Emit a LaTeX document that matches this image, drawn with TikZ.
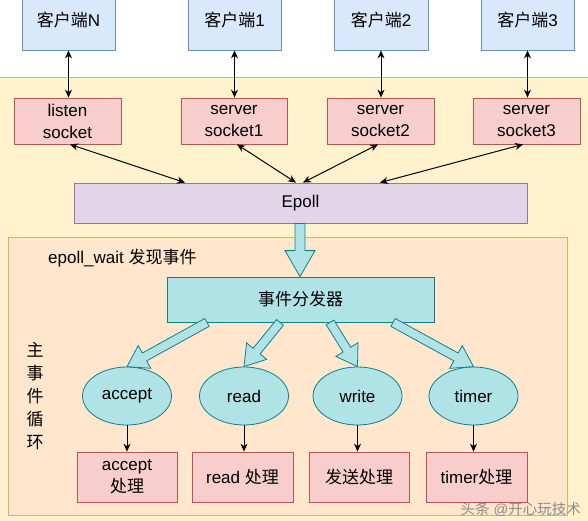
\documentclass[tikz,border=0pt]{standalone}
\usepackage{fontspec}
\setmainfont{Liberation Sans}
\newfontfamily\cjk{Noto Sans CJK SC}
\usetikzlibrary{arrows.meta,calc,shapes.geometric}
\definecolor{cbluef}{HTML}{DAE8FC}\definecolor{cblued}{HTML}{6C8EBF}
\definecolor{credf}{HTML}{F8CECC}\definecolor{credd}{HTML}{B85450}
\definecolor{cpurf}{HTML}{E1D5E7}\definecolor{cpurd}{HTML}{9673A6}
\definecolor{ccyf}{HTML}{B0E3E6}\definecolor{ccyd}{HTML}{0E8088}
\definecolor{cyelf}{HTML}{FFF2CC}\definecolor{cyeld}{HTML}{D6B656}
\definecolor{corgf}{HTML}{FFE6CC}
\tikzset{
  every node/.style={font=\fontsize{17}{22}\selectfont, inner sep=0pt},
  client/.style={draw=cblued, fill=cbluef, line width=0.8pt, minimum height=60pt},
  sock/.style={draw=credd, fill=credf, line width=0.8pt, minimum height=46pt, align=center},
  proc/.style={draw=credd, fill=credf, line width=0.8pt, minimum height=50pt, align=center},
  epollbox/.style={draw=cpurd, fill=cpurf, line width=0.8pt},
  dispbox/.style={draw=ccyd, fill=ccyf, line width=0.8pt},
  evt/.style={ellipse, draw=ccyd, fill=ccyf, line width=0.8pt, minimum width=89pt, minimum height=58pt},
  link/.style={line width=1pt, -{Stealth[length=8pt,width=7pt]}},
  dlink/.style={line width=1pt, {Stealth[length=8pt,width=7pt]}-{Stealth[length=8pt,width=7pt]}},
  bigarrow/.style={draw=ccyd, fill=ccyf, line width=0.8pt, line join=miter},
}
\newcommand\blockarr[5]{%
  \coordinate (baA) at (#1);
  \coordinate (baB) at (#2);
  \coordinate (baH) at ($(baB)!#5!(baA)$);
  \draw[bigarrow] ($(baA)!#3!90:(baB)$) -- ($(baH)!#3!90:(baB)$) -- ($(baH)!#4!90:(baB)$) -- (baB)
    -- ($(baH)!#4!-90:(baB)$) -- ($(baH)!#3!-90:(baB)$) -- ($(baA)!#3!-90:(baB)$) -- cycle;}
\begin{document}
\begin{tikzpicture}[x=1pt,y=-1pt]
\clip (0,0) rectangle (588,521);
\fill[white] (0,0) rectangle (588,521);
% backgrounds
\draw[cyeld, fill=cyelf, line width=0.8pt] (-2,77) rectangle (590,530);
\node[draw=cyeld, fill=corgf, line width=0.8pt, minimum width=559pt, minimum height=278pt] (loop) at (287.5,376) {};
% clients
\node[client, minimum width=93pt] (cN) at (68.5,20) {{\cjk 客户端}N};
\node[client, minimum width=93pt] (c1) at (234.5,20) {{\cjk 客户端}1};
\node[client, minimum width=94pt] (c2) at (381,20) {{\cjk 客户端}2};
\node[client, minimum width=93pt] (c3) at (527.5,20) {{\cjk 客户端}3};
% sockets
\node[sock, minimum width=107pt] (ls) at (67.5,121) {listen\\socket};
\node[sock, minimum width=106pt] (s1) at (234,121) {server\\socket1};
\node[sock, minimum width=107pt] (s2) at (380.5,121) {server\\socket2};
\node[sock, minimum width=107pt] (s3) at (526.5,121) {server\\socket3};
% epoll
\node[epollbox, minimum width=453pt, minimum height=40pt] (ep) at (300.5,203) {Epoll};
% label
\node[anchor=west] (wl) at (48,258) {epoll\_wait {\cjk 发现事件}};
\node[align=center, font=\cjk\fontsize{17}{23}\selectfont] (ml) at (35,396) {主\\事\\件\\循\\环};
% dispatcher
\node[dispbox, minimum width=267pt, minimum height=45pt] (disp) at (300.5,299.5) {\cjk 事件分发器};
% events
\node[evt] (ea) at (127,396) {accept};
\node[evt] (er) at (244,396) {read};
\node[evt] (ew) at (357.5,396) {write};
\node[evt] (et) at (473.5,396) {timer};
% processing
\node[proc, minimum width=100pt] (pa) at (127,477) {accept\\{\cjk 处理}};
\node[proc, minimum width=101pt] (pr) at (242.5,477) {read {\cjk 处理}};
\node[proc, minimum width=100pt] (pw) at (359,477) {\cjk 发送处理};
\node[proc, minimum width=101pt] (pt) at (476.5,477) {timer{\cjk 处理}};
% client <-> socket
\draw[dlink] (cN.south) -- (cN.south |- ls.north);
\draw[dlink] (c1.south) -- (c1.south |- s1.north);
\draw[dlink] (c2.south) -- (c2.south |- s2.north);
\draw[dlink] (c3.south) -- (c3.south |- s3.north);
% socket <-> epoll
\draw[dlink] ([xshift=2.5pt]ls.south) -- ([xshift=-115.5pt]ep.north);
\draw[dlink] ([xshift=3pt]s1.south) -- ([xshift=-4.5pt]ep.north);
\draw[dlink] ([xshift=-2.5pt]s2.south) -- ([xshift=2.5pt]ep.north);
\draw[dlink] ([xshift=-3.5pt]s3.south) -- ([xshift=79.5pt]ep.north);
% big arrows
\coordinate (epb) at ([xshift=-0.5pt]ep.south);
\coordinate (dpt) at ([xshift=-0.5pt]disp.north);
\blockarr{epb}{dpt}{5pt}{15pt}{26pt}
\coordinate (d1) at ([xshift=-93.5pt]disp.south);
\coordinate (d2) at ([xshift=-20.5pt]disp.south);
\coordinate (d3) at ([xshift=29.5pt]disp.south);
\coordinate (d4) at ([xshift=92.5pt]disp.south);
\blockarr{d1}{ea.north}{4.5pt}{13pt}{20pt}
\blockarr{d2}{er.north}{4.5pt}{13pt}{20pt}
\blockarr{d3}{ew.north}{4.5pt}{13pt}{20pt}
\blockarr{d4}{et.north}{4.5pt}{13pt}{20pt}
% event -> processing
\draw[link] (ea.south) -- (ea.south |- pa.north);
\draw[link] (er.south) -- (er.south |- pr.north);
\draw[link] (ew.south) -- (ew.south |- pw.north);
\draw[link] (et.south) -- (et.south |- pt.north);
% watermark
\node[anchor=east, text=black!45, font=\fontsize{14.5}{16}\selectfont] (wm) at (581,509) {{\cjk 头条} @{\cjk 开心玩技术}};
\end{tikzpicture}
\end{document}
